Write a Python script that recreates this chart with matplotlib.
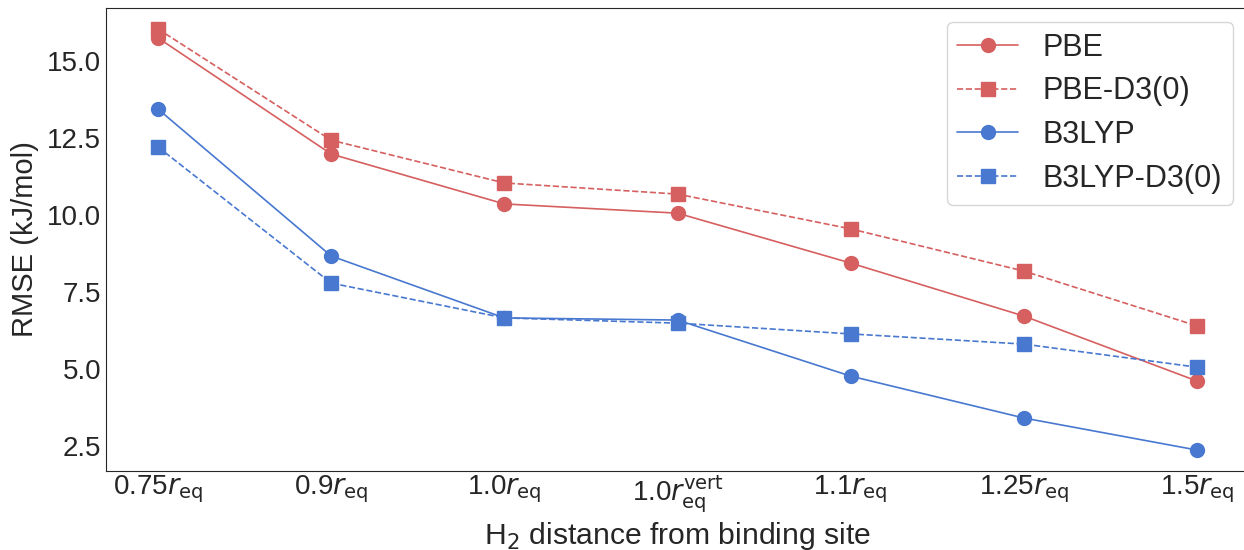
import matplotlib
matplotlib.use("Agg")
import matplotlib.pyplot as plt
import seaborn as sns

sns.set_style("white")
plt.rcParams['font.family'] = ['Liberation Sans', 'DejaVu Sans']
plt.rcParams['mathtext.fontset'] = 'dejavusans'

labels = ['0.75$r_\\mathrm{eq}$', '0.9$r_\\mathrm{eq}$', '1.0$r_\\mathrm{eq}$',
          '1.0$r_\\mathrm{eq}^\\mathrm{vert}$', '1.1$r_\\mathrm{eq}$',
          '1.25$r_\\mathrm{eq}$', '1.5$r_\\mathrm{eq}$']
pbe = [15.75, 11.98, 10.36, 10.06, 8.44, 6.72, 4.61]
pbe_d3 = [16.04, 12.43, 11.04, 10.68, 9.55, 8.18, 6.40]
b3lyp = [13.44, 8.67, 6.66, 6.59, 4.77, 3.41, 2.37]
b3lyp_d3 = [12.21, 7.79, 6.66, 6.49, 6.14, 5.81, 5.06]

red = '#d65f5f'
blue = '#4878d0'
x = list(range(len(labels)))

fig = plt.figure(figsize=(12.44, 5.5), dpi=100)
ax = fig.add_axes([106 / 1244, 1 - 471 / 550, (1249 - 106) / 1244, (471 - 8) / 550])

ax.plot(x, pbe, '-o', color=red, lw=1.2, ms=10, label='PBE')
ax.plot(x, pbe_d3, '--s', color=red, lw=1.2, ms=10, label='PBE-D3(0)')
ax.plot(x, b3lyp, '-o', color=blue, lw=1.2, ms=10, label='B3LYP')
ax.plot(x, b3lyp_d3, '--s', color=blue, lw=1.2, ms=10, label='B3LYP-D3(0)')

ax.set_xlim(-0.3, 6.3)
ax.set_ylim(1.69, 16.72)
ax.set_yticks([2.5, 5.0, 7.5, 10.0, 12.5, 15.0])
ax.set_xticks(x)
ax.set_xticklabels(labels)
ax.tick_params(labelsize=20)
ax.tick_params(axis='x', pad=-2)
ax.tick_params(axis='y', pad=0)
ax.set_ylabel('RMSE (kJ/mol)', fontsize=21, labelpad=6)
ax.set_xlabel('H$_2$ distance from binding site', fontsize=21.7, labelpad=4)

ax.legend(loc='upper right', fontsize=22, labelspacing=0.45, handlelength=2.0,
          borderpad=0.35, handletextpad=0.8, borderaxespad=0,
          bbox_to_anchor=(0.986, 0.970))

fig.savefig('out.png', dpi=100)
